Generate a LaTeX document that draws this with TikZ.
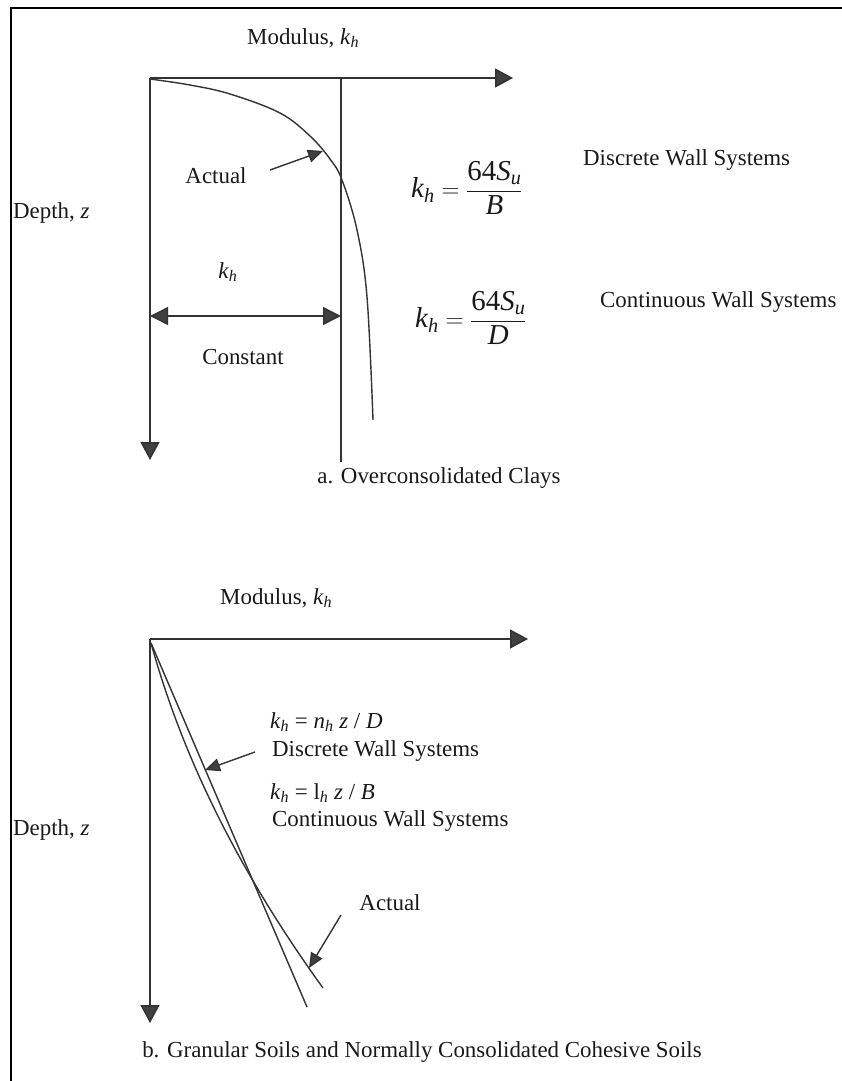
\documentclass[tikz,border=0pt]{standalone}
\usepackage{amsmath}
\usepackage{fontspec}
\setmainfont{Liberation Serif}
\usetikzlibrary{arrows.meta}
\definecolor{ink}{HTML}{333333}
\definecolor{tip}{HTML}{404040}
\begin{document}
\begin{tikzpicture}[x=1bp,y=-1bp,
  lbl/.style={font=\fontsize{23}{27}\selectfont, inner sep=0pt, text=black!90},
  frm/.style={font=\fontsize{29}{34}\selectfont, inner sep=0pt, text=black!90},
  axis/.style={draw=ink, line width=1.6bp, -{Triangle[length=18bp,width=19bp,fill=tip]}},
  curve/.style={draw=ink, line width=1.4bp},
  pointer/.style={draw=ink, line width=1.4bp, -{Triangle[length=15bp,width=13bp,fill=tip]}},
  dim/.style={draw=ink, line width=1.4bp, {Triangle[length=18bp,width=18bp,fill=tip]}-{Triangle[length=18bp,width=18bp,fill=tip]}}]
\useasboundingbox (0,0) rectangle (842,1081);
% frame
\draw[line width=2.6bp] (842,8) -- (11,8) -- (11,1081);

% ---------------- part a ----------------
\coordinate (Oa) at (150,78);
\coordinate (Xa) at (513,78);
\coordinate (Ya) at (150,460);
\coordinate (Ct) at (341,78);
\coordinate (Cb) at (341,462);
\draw[axis] (Oa) -- (Xa);
\draw[axis] (Oa) -- (Ya);
\draw[curve] (Ct) -- (Cb);
\draw[curve] plot[smooth, tension=0.6] coordinates {(150,79) (190,85) (230,94) (280,113) (310,136) (330,159) (342,180) (357,230) (367,297) (373,420)};
\node[lbl, anchor=west] (moda) at (247,38) {Modulus, \textit{k}\textsubscript{\textit{h}}};
\node[lbl, anchor=west] (depa) at (13,213) {Depth, \textit{z}};
\node[lbl] (acta) at (216,176) {Actual};
\coordinate (acta-s) at (270,170);
\coordinate (acta-e) at (323,151);
\draw[pointer] (acta-s) -- (acta-e);
\node[lbl] (kha) at (228,272) {\textit{k}\textsubscript{\textit{h}}};
\coordinate (Da) at (150,316);
\coordinate (Db) at (341,316);
\draw[dim] (Da) -- (Db);
\node[lbl] (consta) at (243,357) {Constant};
\node[frm, anchor=west] (f1) at (411,188) {$\textit{k}_{\textit{h}} = \dfrac{\textup{64}\textit{S}_{\textit{u}}}{\textit{B}}$};
\node[lbl, anchor=west] (dwa) at (583,160) {Discrete Wall Systems};
\node[frm, anchor=west] (f2) at (415,318) {$\textit{k}_{\textit{h}} = \dfrac{\textup{64}\textit{S}_{\textit{u}}}{\textit{D}}$};
\node[lbl, anchor=west] (cwa) at (600,302) {Continuous Wall Systems};
\node[lbl] (capa) at (439,478) {a. Overconsolidated Clays};

% ---------------- part b ----------------
\coordinate (Ob) at (150,639);
\coordinate (Xb) at (528,639);
\coordinate (Yb) at (150,1023);
\draw[axis] (Ob) -- (Xb);
\draw[axis] (Ob) -- (Yb);
\coordinate (Ls) at (151,643);
\coordinate (Le) at (307,1007);
\draw[curve] (Ls) -- (Le);
\draw[curve] (Ls) .. controls (183,759) and (240,873) .. (323,988);
\node[lbl, anchor=west] (modb) at (220,598) {Modulus, \textit{k}\textsubscript{\textit{h}}};
\node[lbl, anchor=west] (depb) at (13,830) {Depth, \textit{z}};
\node[lbl, anchor=west] (eq1) at (270,722) {\textit{k}\textsubscript{\textit{h}} = \textit{n}\textsubscript{\textit{h}} \textit{z} / \textit{D}};
\node[lbl, anchor=west] (dwb) at (272,751) {Discrete Wall Systems};
\node[lbl, anchor=west] (eq2) at (270,793) {\textit{k}\textsubscript{\textit{h}} = l\textsubscript{\textit{h}} \textit{z} / \textit{B}};
\node[lbl, anchor=west] (cwb) at (272,821) {Continuous Wall Systems};
\coordinate (pb1-s) at (255,752);
\coordinate (pb1-e) at (205,770);
\draw[pointer] (pb1-s) -- (pb1-e);
\node[lbl] (actb) at (390,903) {Actual};
\coordinate (pb2-s) at (341,915);
\coordinate (pb2-e) at (309,968);
\draw[pointer] (pb2-s) -- (pb2-e);
\node[lbl] (capb) at (422,1052) {b. Granular Soils and Normally Consolidated Cohesive Soils};
\end{tikzpicture}
\end{document}
